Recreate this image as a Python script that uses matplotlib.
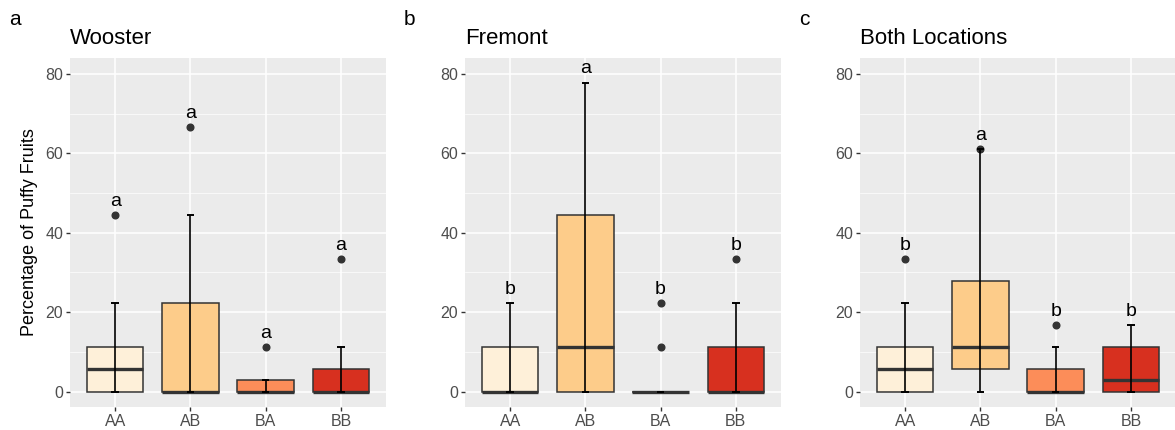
import matplotlib.pyplot as plt
from matplotlib.ticker import MultipleLocator

plt.rcParams['font.family'] = ['Liberation Sans', 'DejaVu Sans']

# Genotype groups and their fills (OrRd, 4 classes)
genotypes = ['AA', 'AB', 'BA', 'BB']
fill_colors = ['#FEF0D9', '#FDCC8A', '#FC8D59', '#D7301F']

# Wooster
wooster_q1 = [0, 0, 0, 0]
wooster_med = [5.56, 0, 0, 0]
wooster_q3 = [11.1, 22.2, 2.78, 5.56]
wooster_lo = [0, 0, 0, 0]
wooster_hi = [22.2, 44.4, 2.78, 11.1]
wooster_out = [[44.4], [66.7], [11.1], [33.3]]
wooster_letters = ['a', 'a', 'a', 'a']

# Fremont
fremont_q1 = [0, 0, 0, 0]
fremont_med = [0, 11.1, 0, 0]
fremont_q3 = [11.1, 44.4, 0, 11.1]
fremont_lo = [0, 0, 0, 0]
fremont_hi = [22.2, 77.8, 0, 22.2]
fremont_out = [[], [], [11.1, 22.2], [33.3]]
fremont_letters = ['b', 'a', 'b', 'b']

# Both locations pooled
both_q1 = [0, 5.56, 0, 0]
both_med = [5.56, 11.1, 0, 2.78]
both_q3 = [11.1, 27.8, 5.56, 11.1]
both_lo = [0, 0, 0, 0]
both_hi = [22.2, 61.1, 11.1, 16.7]
both_out = [[33.3], [61.1], [16.7], []]
both_letters = ['b', 'a', 'b', 'b']

panels = [
    ('a', 'Wooster', wooster_q1, wooster_med, wooster_q3, wooster_lo, wooster_hi, wooster_out, wooster_letters),
    ('b', 'Fremont', fremont_q1, fremont_med, fremont_q3, fremont_lo, fremont_hi, fremont_out, fremont_letters),
    ('c', 'Both Locations', both_q1, both_med, both_q3, both_lo, both_hi, both_out, both_letters),
]

fig = plt.figure(figsize=(11.75, 4.3), dpi=100)
lefts = [0.0596, 0.3957, 0.7319]

for left, (tag, title, q1, med, q3, lo, hi, out, letters) in zip(lefts, panels):
    ax = fig.add_axes([left, 0.0535, 0.2690, 0.8116])
    ax.set_facecolor('#EBEBEB')
    for s in ax.spines.values():
        s.set_visible(False)

    pos = list(range(1, len(genotypes) + 1))
    stats = []
    for i in range(len(genotypes)):
        stats.append({'q1': q1[i], 'med': med[i], 'q3': q3[i],
                      'whislo': lo[i], 'whishi': hi[i], 'fliers': out[i]})

    bp = ax.bxp(stats, positions=pos, widths=0.75, patch_artist=True,
                showcaps=False,
                boxprops=dict(edgecolor='#333333', linewidth=1.1),
                medianprops=dict(color='#333333', linewidth=2.4),
                whiskerprops=dict(linewidth=0),
                flierprops=dict(marker='o', markerfacecolor='#333333',
                                markeredgecolor='#333333', markersize=4.8))
    for patch, c in zip(bp['boxes'], fill_colors):
        patch.set_facecolor(c)
        patch.set_zorder(2)
    for m in bp['medians']:
        m.set_zorder(3)

    # error-bar style whiskers drawn over the boxes
    ax.errorbar(pos, lo, yerr=[[0] * len(lo), [h - l for h, l in zip(hi, lo)]],
                fmt='none', ecolor='black', elinewidth=1.2, capsize=0, zorder=4)
    ax.hlines(hi, [p - 0.05 for p in pos], [p + 0.05 for p in pos],
              color='black', linewidth=1.4, zorder=4)
    ax.hlines(lo, [p - 0.05 for p in pos], [p + 0.05 for p in pos],
              color='black', linewidth=1.4, zorder=4)

    # significance letters above the highest point of each group
    for p, h, o, let in zip(pos, hi, out, letters):
        top = max([h] + o)
        ax.text(p, top + 1.3, let, ha='center', va='bottom', fontsize=14,
                color='black', zorder=5)

    ax.set_xlim(0.4, 4.6)
    ax.set_ylim(-3.9, 84)
    ax.set_xticks(pos)
    ax.set_xticklabels(genotypes)
    ax.yaxis.set_major_locator(MultipleLocator(20))
    ax.yaxis.set_minor_locator(MultipleLocator(10))
    ax.grid(which='major', color='white', linewidth=1.1, zorder=0)
    ax.grid(which='minor', axis='y', color='white', linewidth=0.5, zorder=0)
    ax.set_axisbelow(True)
    ax.tick_params(which='major', length=3, width=1, color='#333333',
                   labelcolor='#4D4D4D', labelsize=11.5, pad=2)
    ax.tick_params(which='minor', length=0)

    if tag == 'a':
        ax.set_ylabel('Percentage of Puffy Fruits', fontsize=13, labelpad=5)

    ax.set_title(title, loc='left', fontsize=16, pad=10)
    fig.text(left - 0.047, 0.955, tag, fontsize=15, ha='center', va='center')

fig.savefig('out.png', dpi=100)
